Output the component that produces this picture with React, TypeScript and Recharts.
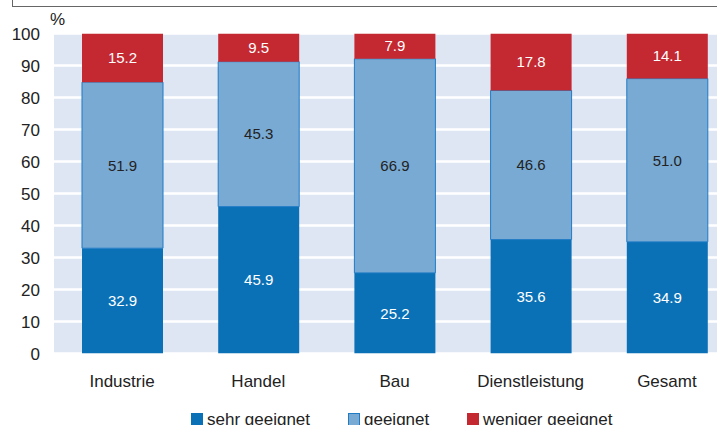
import React from "react";
import { BarChart, Bar, XAxis, YAxis, CartesianGrid, LabelList } from "recharts";

const categories = ["Industrie", "Handel", "Bau", "Dienstleistung", "Gesamt"];
const sehrGeeignet = [32.9, 45.9, 25.2, 35.6, 34.9];
const geeignet = [51.9, 45.3, 66.9, 46.6, 51.0];
const wenigerGeeignet = [15.2, 9.5, 7.9, 17.8, 14.1];
const yTicks = [0, 10, 20, 30, 40, 50, 60, 70, 80, 90, 100];

const seriesNames = ["sehr geeignet", "geeignet", "weniger geeignet"];
const colors = ["#0b71b6", "#79aad4", "#c42831"];

const data = categories.map((c, i) => ({
  name: c,
  s: sehrGeeignet[i],
  g: geeignet[i],
  w: wenigerGeeignet[i],
}));

const FONT = "'Liberation Sans', Arial, sans-serif";
const fmt = (v: any) => Number(v).toFixed(1);

const legendPos = [
  { sq: 191, tx: 207 },
  { sq: 348, tx: 364 },
  { sq: 467, tx: 483 },
];

export default function App() {
  return (
    <div
      style={{
        position: "absolute",
        left: 0,
        top: 0,
        width: 717,
        height: 425,
        overflow: "hidden",
        background: "#fff",
        fontFamily: FONT,
      }}
    >
      <div
        style={{
          position: "absolute",
          left: 12,
          top: -1,
          width: 720,
          height: 6.5,
          borderLeft: "1.5px solid #666",
          borderBottom: "1.5px solid #666",
        }}
      />
      <div
        style={{
          position: "absolute",
          left: 50,
          top: 10,
          fontSize: 17,
          color: "#222",
        }}
      >
        %
      </div>
      <div style={{ position: "absolute", left: 0, top: 0 }}>
        <BarChart
          width={738}
          height={425}
          data={data}
          margin={{ top: 33.5, right: 3, bottom: 0, left: 0 }}
          barSize={81}
        >
          <CartesianGrid
            vertical={false}
            fill="#dfe6f3"
            stroke="#ffffff"
            strokeWidth={2.5}
          />
          <XAxis
            dataKey="name"
            axisLine={false}
            tickLine={false}
            tickSize={0}
            tickMargin={21}
            height={71.5}
            interval={0}
            tick={{ fontSize: 17, fill: "#222", fontFamily: FONT }}
          />
          <YAxis
            domain={[0, 100]}
            ticks={yTicks}
            allowDataOverflow
            axisLine={false}
            tickLine={false}
            tickSize={0}
            tickMargin={14}
            width={54}
            tick={{ fontSize: 17, fill: "#222", fontFamily: FONT }}
          />
          <Bar dataKey="s" stackId="a" fill={colors[0]} isAnimationActive={false}>
            <LabelList
              dataKey="s"
              position="center"
              formatter={fmt}
              style={{ fill: "#ffffff", fontSize: 15, fontFamily: FONT }}
            />
          </Bar>
          <Bar
            dataKey="g"
            stackId="a"
            fill={colors[1]}
            stroke="#1f7bc4"
            strokeWidth={1}
            isAnimationActive={false}
          >
            <LabelList
              dataKey="g"
              position="center"
              formatter={fmt}
              style={{ fill: "#222222", fontSize: 15, fontFamily: FONT }}
            />
          </Bar>
          <Bar dataKey="w" stackId="a" fill={colors[2]} isAnimationActive={false}>
            <LabelList
              dataKey="w"
              position="center"
              formatter={fmt}
              style={{ fill: "#ffffff", fontSize: 15, fontFamily: FONT }}
            />
          </Bar>
        </BarChart>
      </div>
      {seriesNames.map((n, i) => (
        <React.Fragment key={n}>
          <div
            style={{
              position: "absolute",
              left: legendPos[i].sq,
              top: 413,
              width: 12,
              height: 13,
              boxSizing: "border-box",
              background: colors[i],
              border: i === 1 ? "1px solid #1f7bc4" : "none",
            }}
          />
          <div
            style={{
              position: "absolute",
              left: legendPos[i].tx,
              top: 410,
              fontSize: 17,
              lineHeight: "20px",
              color: "#222",
              whiteSpace: "nowrap",
            }}
          >
            {n}
          </div>
        </React.Fragment>
      ))}
    </div>
  );
}
